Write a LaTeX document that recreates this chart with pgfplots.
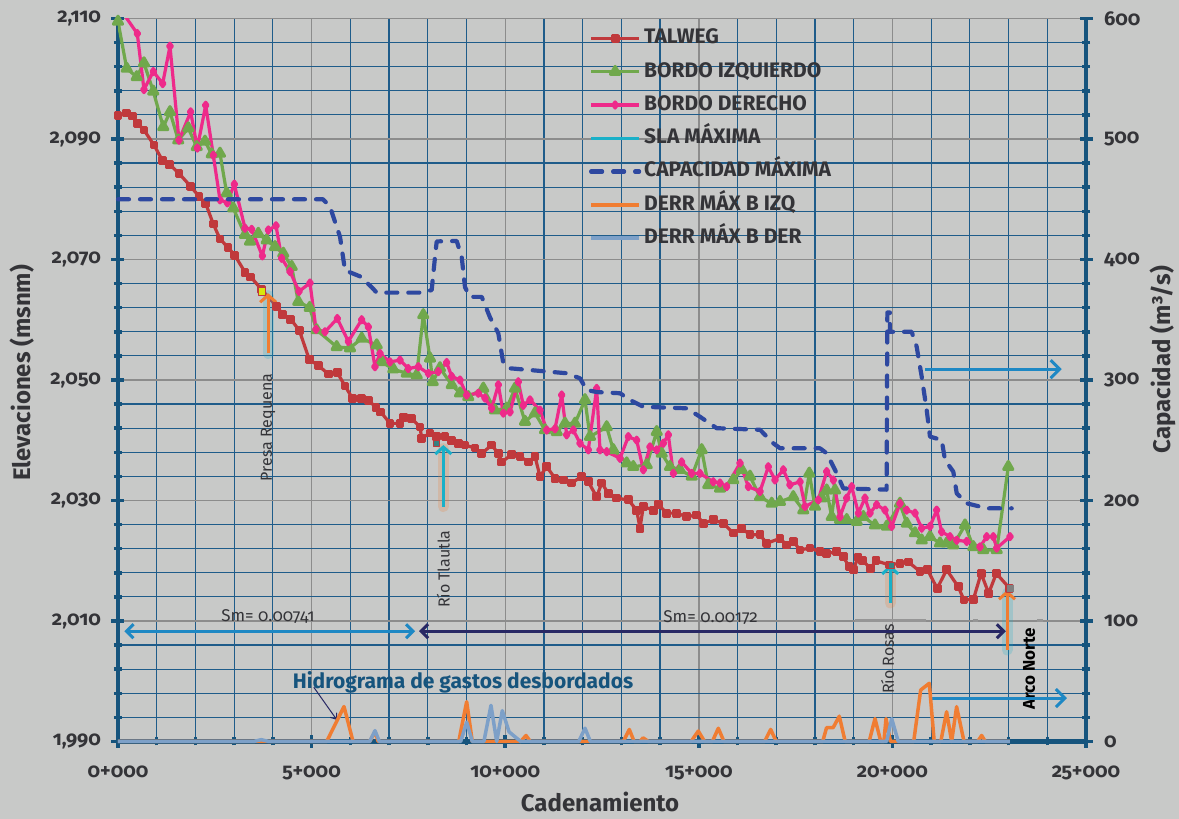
\documentclass[border=0pt]{standalone}
\usepackage{pgfplots}
\pgfplotsset{compat=1.18}
\usepackage{fontspec}
\setmainfont{Fira Sans}[Numbers=OldStyle]
\usetikzlibrary{arrows.meta}

\definecolor{bgcol}{RGB}{200,201,200}
\definecolor{axisblue}{RGB}{22,84,125}
\definecolor{gridblue}{RGB}{31,92,138}
\definecolor{majgray}{RGB}{140,140,140}
\definecolor{txtgray}{RGB}{52,52,56}
\definecolor{redT}{RGB}{192,57,60}
\definecolor{greenB}{RGB}{112,168,76}
\definecolor{pinkB}{RGB}{238,42,138}
\definecolor{slacyan}{RGB}{26,176,200}
\definecolor{capblue}{RGB}{46,72,160}
\definecolor{orangeD}{RGB}{240,125,50}
\definecolor{ltblueD}{RGB}{125,160,200}
\definecolor{arrowblue}{RGB}{30,136,196}
\definecolor{navyA}{RGB}{40,40,100}
\definecolor{segray}{RGB}{150,150,150}

\newcommand{\setfs}[1]{\fontsize{#1}{#1}\selectfont}

\tikzset{
  glowcyan/.style={line width=11pt, draw=slacyan, opacity=0.22, line cap=round},
  gloworange/.style={line width=11pt, draw=orangeD, opacity=0.22, line cap=round},
  riverarrow/.style={line width=3pt, -{Straight Barb[length=7pt,width=16pt]}},
}

\begin{document}
\begin{tikzpicture}
\path[use as bounding box, fill=bgcol] (-118pt,-77.5pt) rectangle (1061pt,741.5pt);

% ---------------- elevations (left axis) ----------------
\begin{axis}[
  at={(0pt,0pt)}, anchor=south west,
  width=968pt, height=723pt, scale only axis,
  xmin=0, xmax=25000, ymin=1990, ymax=2110,
  scaled x ticks=false,
  axis x line*=bottom, axis y line*=left,
  axis line style={-, line width=4.5pt, draw=axisblue},
  xtick={0,5000,...,25000},
  xticklabels={0+000,5+000,10+000,15+000,20+000,25+000},
  minor x tick num=4,
  ytick={1990,2010,...,2110},
  yticklabels={{1,990},{2,010},{2,030},{2,050},{2,070},{2,090},{2,110}},
  minor y tick num=4,
  grid=both,
  major grid style={draw=majgray, line width=1.4pt},
  minor grid style={draw=gridblue, line width=1.2pt},
  tick align=center,
  major tick length=13pt, minor tick length=8pt,
  tick style={draw=axisblue, line width=3.5pt},
  ticklabel style={font=\bfseries\setfs{20}, text=txtgray},
  xticklabel style={yshift=-14pt},
  yticklabel style={xshift=-7pt},
  xlabel={Cadenamiento},
  xlabel style={font=\bfseries\setfs{24}, text=txtgray, at={(axis description cs:0.498,-0.084)}, anchor=center},
  ylabel={Elevaciones (msnm)},
  ylabel style={font=\bfseries\setfs{24}, text=txtgray, at={(axis description cs:-0.099,0.51)}, anchor=center},
  legend style={at={(axis description cs:0.4866,0.9855)}, anchor=north west,
    draw=none, fill=none, inner sep=0pt, outer sep=0pt,
    font=\bfseries\setfs{21}, text=txtgray, row sep=14.5pt, column sep=3pt,
    nodes={inner sep=0pt, text height=14.8pt, text depth=4pt}},
  legend cell align=left,
  legend image code/.code={\draw[mark repeat=2, mark phase=2, #1] plot coordinates {(0pt,0pt) (24pt,0pt) (48pt,0pt)};},
  line join=round,
]

% TALWEG
\addplot[draw=redT, line width=3.2pt, mark=square*, mark size=2.8pt, mark options={fill=redT, draw=redT}] coordinates {
(0,2093.9) (225,2094.3) (380,2093.8) (500,2092.6) (670,2091.5) (930,2089.0) (1150,2086.4) (1325,2085.8)
(1575,2084.3) (1880,2082.1) (2090,2080.5) (2265,2079.3) (2460,2075.9) (2635,2073.4) (2840,2072.0) (3015,2070.7)
(3280,2067.9) (3430,2067.1) (3710,2065.0) (4100,2062.2) (4255,2060.9) (4460,2060.1) (4685,2058.2) (4940,2053.4)
(5175,2052.4) (5430,2051.0) (5665,2051.2) (5865,2049.0) (6060,2046.9) (6295,2046.9) (6465,2046.6) (6665,2045.5)
(6785,2044.7) (7025,2042.8) (7283,2042.8) (7368,2043.8) (7585,2043.6) (7800,2042.2) (7843,2040.3) (8058,2041.2)
(8231,2040.6) (8445,2040.6) (8618,2040.0) (8789,2039.5) (8962,2039.2) (9220,2038.7) (9393,2037.8) (9651,2039.2)
(9822,2037.8) (9910,2036.4) (10168,2037.6) (10382,2037.3) (10597,2036.4) (10770,2037.3) (10899,2034.0) (11072,2035.6)
(11286,2033.7) (11501,2033.4) (11717,2032.9) (11976,2034.0) (12146,2033.1) (12363,2030.6) (12492,2032.9) (12663,2031.2)
(12880,2030.4) (13179,2030.1) (13396,2028.4) (13481,2025.4) (13567,2029.0) (13825,2028.4) (13954,2029.3) (14171,2027.9)
(14429,2027.9) (14687,2027.3) (14946,2027.6) (15116,2026.2) (15374,2026.8) (15633,2026.2) (15891,2024.6) (16108,2025.4)
(16322,2024.3) (16581,2024.3) (16754,2022.9) (17097,2023.7) (17270,2022.6) (17440,2023.2) (17614,2021.8) (17872,2022.1)
(18130,2021.5) (18303,2021.2) (18561,2021.5) (18732,2020.7) (18879,2019.0) (18985,2018.5) (19112,2020.5) (19233,2020.1)
(19429,2018.7) (19576,2020.0) (19922,2019.3) (20196,2019.6) (20416,2019.8) (20713,2018.2) (20909,2018.5) (21155,2015.4)
(21402,2018.5) (21699,2015.7) (21847,2013.5) (22092,2013.6) (22291,2017.9) (22487,2014.6) (22684,2017.9) (23030,2015.4)
};
\addlegendentry{TALWEG}

% BORDO IZQUIERDO
\addplot[draw=greenB, line width=3.2pt, mark=triangle*, mark size=5.2pt, mark options={fill=greenB, draw=greenB}] coordinates {
(0,2109.5) (225,2101.7) (483,2100.3) (671,2102.6) (912,2097.9) (1170,2092.0) (1343,2094.5) (1557,2089.8)
(1816,2091.8) (2033,2088.7) (2247,2089.6) (2420,2087.5) (2634,2087.6) (2807,2081.0) (2978,2078.5) (3280,2074.1)
(3409,2073.0) (3623,2074.3) (3840,2073.2) (4055,2072.1) (4269,2071.0) (4486,2068.8) (4656,2063.0) (4950,2062.0)
(5130,2058.3) (5648,2055.5) (5992,2055.3) (6294,2056.9) (6681,2055.8) (6811,2053.0) (7110,2051.8) (7456,2051.1)
(7714,2050.8) (7885,2060.8) (8058,2053.6) (8128,2049.7) (8316,2052.0) (8618,2049.2) (8833,2047.8) (9047,2047.2)
(9435,2048.6) (9737,2045.0) (10039,2045.3) (10253,2048.6) (10511,2043.1) (10770,2044.5) (11028,2041.7) (11330,2041.4)
(11544,2042.8) (11803,2042.8) (12061,2046.7) (12190,2040.6) (12621,2042.2) (12792,2038.4) (13138,2036.2) (13308,2035.6)
(13654,2035.9) (13913,2041.4) (14042,2037.8) (14256,2035.6) (14514,2035.1) (14817,2034.0) (15075,2038.4) (15245,2032.6)
(15547,2032.0) (15891,2033.4) (16108,2035.1) (16322,2034.0) (16581,2030.6) (16883,2029.5) (17097,2029.8) (17440,2030.6)
(17699,2028.4) (17854,2034.5) (18001,2029.0) (18174,2030.4) (18303,2031.7) (18432,2027.3) (18518,2031.7) (18647,2026.8)
(18820,2026.8) (19078,2026.5) (19249,2027.3) (19551,2025.9) (19853,2025.7) (20196,2029.5) (20369,2026.2) (20584,2024.6)
(20757,2023.4) (20971,2024.0) (21229,2022.9) (21402,2022.9) (21573,2022.6) (21875,2025.9) (22090,2022.3) (22348,2021.8)
(22694,2021.8) (22993,2035.6)
};
\addlegendentry{BORDO IZQUIERDO}

% BORDO DERECHO
\addplot[draw=pinkB, line width=3.2pt, mark=diamond*, mark size=3pt, mark options={fill=pinkB, draw=pinkB}] coordinates {
(0,2112.1) (498,2107.5) (671,2098.2) (912,2101.2) (1154,2099.2) (1343,2105.4) (1575,2089.8) (1877,2094.5)
(2048,2088.5) (2265,2095.6) (2461,2087.3) (2634,2079.9) (2823,2079.4) (3004,2082.5) (3280,2075.2) (3453,2075.0)
(3727,2070.6) (3882,2074.9) (4081,2075.6) (4228,2070.2) (4442,2068.0) (4675,2064.7) (4959,2066.1) (5114,2058.4)
(5346,2058.0) (5664,2060.2) (5948,2056.4) (6294,2060.0) (6465,2058.8) (6637,2052.2) (6767,2054.4) (7025,2053.0)
(7283,2053.3) (7497,2051.9) (7756,2052.2) (8014,2051.1) (8272,2051.4) (8489,2052.9) (8618,2050.6) (8833,2050.0)
(9006,2047.5) (9305,2047.8) (9478,2047.0) (9651,2045.3) (9822,2049.2) (9951,2044.5) (10124,2044.7) (10338,2049.7)
(10468,2045.8) (10640,2046.7) (10899,2045.0) (11072,2041.7) (11286,2041.9) (11459,2047.5) (11588,2040.9) (11759,2041.7)
(11932,2039.5) (12146,2038.4) (12363,2048.6) (12448,2038.4) (12621,2038.1) (12965,2037.0) (13179,2040.6) (13396,2040.0)
(13567,2035.1) (13740,2038.9) (13913,2038.4) (14084,2039.5) (14213,2040.9) (14342,2034.5) (14558,2036.4) (14817,2034.5)
(15031,2034.5) (15374,2033.1) (15547,2032.9) (15720,2032.3) (16064,2036.2) (16279,2032.3) (16581,2031.5) (16795,2035.6)
(16968,2033.4) (17182,2035.1) (17355,2032.6) (17614,2033.1) (17743,2029.0) (18086,2030.1) (18303,2034.8) (18474,2033.4)
(18647,2027.3) (18820,2030.4) (18949,2032.3) (19120,2027.9) (19292,2030.4) (19421,2027.9) (19594,2029.3) (19809,2028.4)
(19982,2025.7) (20196,2029.5) (20369,2028.4) (20584,2027.9) (20757,2025.4) (20971,2025.7) (21144,2028.4) (21273,2024.8)
(21488,2024.0) (21661,2023.4) (21919,2023.2) (22262,2022.3) (22436,2024.0) (22606,2024.0) (22694,2022.1) (23037,2024.0)
};
\addlegendentry{BORDO DERECHO}

\addlegendimage{draw=slacyan, line width=3.5pt}
\addlegendentry{SLA MÁXIMA}
\addlegendimage{draw=capblue, line width=4.2pt, dash pattern=on 11pt off 11pt, line cap=round}
\addlegendentry{CAPACIDAD MÁXIMA}
\addlegendimage{draw=orangeD, line width=3.5pt}
\addlegendentry{DERR MÁX B IZQ}
\addlegendimage{draw=ltblueD, line width=3.5pt}
\addlegendentry{DERR MÁX B DER}

% station markers on the thalweg
\addplot[forget plot, only marks, mark=square*, mark size=3.6pt, mark options={fill=yellow!85!green, draw=redT, line width=1pt}] coordinates {(3711,2064.7)};
\addplot[forget plot, only marks, mark=square*, mark size=3.2pt, mark options={fill=teal!55!gray, draw=redT, line width=1pt}] coordinates {(8218,2039.5) (19971,2019.2)};
\addplot[forget plot, only marks, mark=square*, mark size=3pt, mark options={fill=gray, draw=gray}] coordinates {(23030,2015.4)};

% short gray traces on the 2,010 line
\addplot[forget plot, draw=segray, line width=3pt] coordinates {(19034,2010.1) (20860,2010.1)};
\addplot[forget plot, draw=segray, line width=3pt] coordinates {(22080,2010.1) (22200,2010.1)};
\addplot[forget plot, draw=segray, line width=3pt] coordinates {(23740,2010.1) (23880,2010.1)};

% river and structure arrows
\draw[gloworange] (axis cs:8402,2029.0) -- (axis cs:8402,2038.6);
\draw[gloworange] (axis cs:19943,2013.0) -- (axis cs:19943,2018.8);
\draw[glowcyan] (axis cs:3877,2054.4) -- (axis cs:3877,2064.0);
\draw[glowcyan] (axis cs:22960,2005.2) -- (axis cs:22960,2014.6);
\draw[riverarrow, draw=orangeD] (axis cs:3877,2054.4) -- (axis cs:3877,2064.4);
\draw[riverarrow, draw=slacyan] (axis cs:8402,2029.0) -- (axis cs:8402,2039.2);
\draw[riverarrow, draw=slacyan] (axis cs:19943,2013.0) -- (axis cs:19943,2019.3);
\draw[riverarrow, draw=orangeD] (axis cs:22960,2005.2) -- (axis cs:22960,2015.1);

\node[rotate=90, font=\setfs{16}, text=txtgray] at (axis cs:3877,2042.1) {Presa Requena};
\node[rotate=90, font=\setfs{16}, text=txtgray] at (axis cs:8402,2018.6) {Río Tlautla};
\node[rotate=90, font=\setfs{16}, text=txtgray] at (axis cs:19873,2003.7) {Río Rosas};
\node[rotate=90, font=\bfseries\setfs{17}, text=black] at (axis cs:23530,2002.1) {Arco Norte};

% mean slopes
\draw[line width=3pt, draw=arrowblue, {Straight Barb[length=7pt,width=14pt]}-{Straight Barb[length=7pt,width=14pt]}] (axis cs:165,2008.3) -- (axis cs:7676,2008.3);
\draw[line width=3pt, draw=navyA, {Straight Barb[length=7pt,width=14pt]}-{Straight Barb[length=7pt,width=14pt]}] (axis cs:7774,2008.3) -- (axis cs:22931,2008.3);
\node[font=\setfs{17}, text=txtgray] at (axis cs:3874,2010.8) {Sm= 0.00741};
\node[font=\setfs{17}, text=txtgray] at (axis cs:15307,2010.5) {Sm= 0.00172};

% overflow hydrograph note
\node[font=\bfseries\setfs{21}, text=axisblue] at (axis cs:8910,1999.8) {Hidrograma de gastos desbordados};
\draw[line width=1pt, draw=navyA, -{Straight Barb[length=5pt,width=8pt]}] (axis cs:5057,1999.0) -- (axis cs:5651,1993.6);

% pointers to the capacity axis
\draw[line width=3pt, draw=arrowblue, -{Straight Barb[length=9pt,width=18pt]}] (axis cs:20842,2051.8) -- (axis cs:24373,2051.8);
\draw[line width=3pt, draw=arrowblue, -{Straight Barb[length=9pt,width=18pt]}] (axis cs:20958,1997.2) -- (axis cs:24509,1997.2);
\end{axis}

% ---------------- capacity (right axis) ----------------
\begin{axis}[
  at={(0pt,0pt)}, anchor=south west,
  width=968pt, height=723pt, scale only axis,
  xmin=0, xmax=25000, ymin=0, ymax=600,
  scaled x ticks=false,
  axis x line=none, axis y line*=right,
  axis line style={-, line width=4.5pt, draw=axisblue},
  ytick={0,100,...,600},
  yticklabels={0,100,200,300,400,500,600},
  minor y tick num=4,
  tick align=center,
  major tick length=13pt, minor tick length=8pt,
  tick style={draw=axisblue, line width=3.5pt},
  ticklabel style={font=\bfseries\setfs{20}, text=txtgray},
  yticklabel style={xshift=8pt},
  ylabel={Capacidad (m³/s)},
  ylabel style={font=\bfseries\setfs{24}, text=txtgray, at={(axis description cs:1.0795,0.528)}, anchor=center},
  clip=false,
  line join=round,
]
% CAPACIDAD MÁXIMA
\addplot[draw=capblue, line width=4.2pt, dash pattern=on 11pt off 11pt, line cap=round] coordinates {
(0,450) (5294,450) (5475,444) (5648,427) (5733,419) (5863,391) (6250,386) (6552,377) (6681,372.5)
(7885,372.5) (8102,374.7) (8187,402) (8231,415) (8747,415.4) (8877,402) (8962,377) (9091,369) (9393,369)
(9607,352) (9822,338.8) (9951,314) (10124,309.7) (11588,305.6) (11932,301.4) (12105,291.7) (12363,290)
(12965,289) (13223,283.4) (13567,277.8) (14687,276.5) (15031,269.5) (15462,260) (16581,258.7) (16924,247.5)
(17097,243.4) (18130,243.3) (18303,239.2) (18561,222.6) (18732,210) (19850,209) (19870,356) (19935,356)
(19935,340) (20498,340) (20627,327.6) (20757,302.7) (20886,275) (20971,253) (21273,250.2) (21359,233.6)
(21573,223.9) (21661,206) (21919,197.7) (22436,193.5) (23081,193.5)
};
% DERR MÁX B IZQ
\addplot[draw=orangeD, line width=3.5pt] coordinates {
(0,0) (5390,0) (5837,29) (6070,0) (6500,0) (6637,8) (6720,0) (8800,0) (9005,33) (9150,0)
(10400,0) (10537,5) (10650,0) (13050,0) (13206,10) (13330,0) (13480,0) (13560,3) (13700,0)
(14800,0) (14987,8.7) (15150,0) (15350,0) (15504,11) (15650,0) (16700,0) (16857,10) (17000,0)
(18200,0) (18300,11.5) (18470,11.5) (18629,21) (18780,0) (19400,0) (19550,19) (19700,0) (19780,0)
(19835,19) (19950,0) (20550,0) (20730,42.7) (20953,48.3) (21080,0) (21250,0) (21400,24.7) (21530,0)
(21658,28.9) (21850,0) (22200,0) (22305,5) (22400,0) (23037,0)
};
% DERR MÁX B DER
\addplot[draw=ltblueD, line width=3.5pt] coordinates {
(0,0) (3500,0) (3700,1.5) (3900,0) (6500,0) (6637,9) (6750,0) (8850,0) (9005,16) (9150,0)
(9450,0) (9633,30) (9780,0) (9925,25.6) (10100,8) (10400,0) (11900,0) (12061,11) (12200,0)
(19850,0) (19982,19) (20150,0) (23037,0)
};
\end{axis}
\end{tikzpicture}
\end{document}
